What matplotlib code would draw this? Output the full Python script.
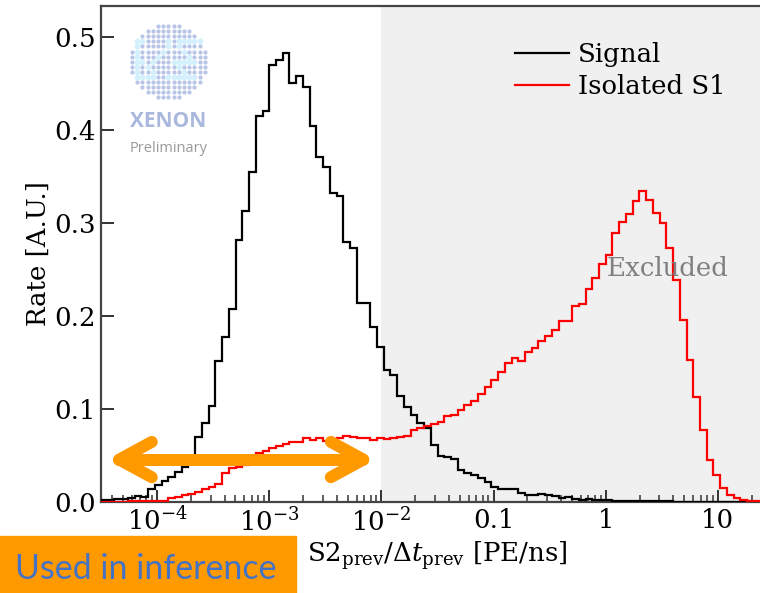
import numpy as np
import matplotlib.pyplot as plt
from matplotlib.patches import Rectangle

plt.rcParams.update({
    'font.family': 'DejaVu Serif',
    'mathtext.fontset': 'dejavuserif',
    'font.size': 18.7,
})

# log-spaced bins, 0.06 decades wide, from 10^-4.5 to 10^1.5
edges = np.logspace(-4.5, 1.5, 101)

# normalised rates, one value per bin
signal = [
    0.002, 0.002, 0.003, 0.003, 0.004, 0.006, 0.005, 0.014, 0.018, 0.023,
    0.027, 0.032, 0.038, 0.047, 0.070, 0.085, 0.103, 0.152, 0.177, 0.207,
    0.282, 0.313, 0.355, 0.415, 0.420, 0.470, 0.475, 0.483, 0.450, 0.458,
    0.446, 0.404, 0.371, 0.360, 0.332, 0.329, 0.279, 0.273, 0.214, 0.214,
    0.188, 0.167, 0.142, 0.137, 0.114, 0.102, 0.093, 0.085, 0.079, 0.061,
    0.049, 0.048, 0.046, 0.034, 0.031, 0.029, 0.026, 0.021, 0.016, 0.014,
    0.0135, 0.014, 0.010, 0.008, 0.008, 0.009, 0.007, 0.006, 0.004, 0.005,
    0.003, 0.002, 0.003, 0.002, 0.002, 0.002, 0.001, 0.001, 0.001, 0.001,
    0.001, 0.001, 0.0008, 0.0008, 0.0006, 0.0005, 0.0005, 0.0004, 0.0003, 0.0003,
    0.0002, 0.0002, 0.0002, 0.0001, 0.0001, 0.0001, 0.0001, 0.0, 0.0, 0.0,
]
isolated_s1 = [
    0.0003, 0.0003, 0.0005, 0.0005, 0.0007, 0.0008, 0.001, 0.0012, 0.0014, 0.0014,
    0.004, 0.005, 0.008, 0.009, 0.011, 0.014, 0.016, 0.019, 0.031, 0.036,
    0.038, 0.040, 0.046, 0.0525, 0.055, 0.0585, 0.0607, 0.062, 0.064, 0.065,
    0.0686, 0.0665, 0.0686, 0.066, 0.068, 0.069, 0.071, 0.070, 0.0686, 0.0686,
    0.067, 0.0686, 0.0675, 0.069, 0.070, 0.0705, 0.0775, 0.079, 0.082, 0.084,
    0.086, 0.092, 0.094, 0.099, 0.104, 0.109, 0.116, 0.124, 0.131, 0.140,
    0.149, 0.155, 0.152, 0.161, 0.165, 0.173, 0.178, 0.185, 0.195, 0.194,
    0.211, 0.213, 0.229, 0.241, 0.256, 0.265, 0.289, 0.301, 0.310, 0.323,
    0.334, 0.325, 0.311, 0.300, 0.273, 0.239, 0.196, 0.153, 0.1125, 0.077,
    0.045, 0.0285, 0.015, 0.008, 0.0043, 0.0025, 0.0015, 0.001, 0.0005, 0.0005,
]

xticks = [1e-4, 1e-3, 1e-2, 0.1, 1, 10]
xticklabels = [r'$10^{-4}$', r'$10^{-3}$', r'$10^{-2}$', '0.1', '1', '10']
yticks = [0.0, 0.1, 0.2, 0.3, 0.4, 0.5]
cut = 1e-2              # above this the region is excluded
inference_range = [4.6e-5, 6.9e-3]

W, H = 760, 593
fig = plt.figure(figsize=(W / 100, H / 100), dpi=100)
# axes runs past the right edge of the picture (the slide crops it)
ax = fig.add_axes([101 / W, 91 / H, 673 / W, 496 / H])

ax.axvspan(cut, edges[-1], color='#f0f0f0', lw=0, zorder=0)
ax.stairs(signal, edges, color='black', lw=1.6, label='Signal', zorder=3)
ax.stairs(isolated_s1, edges, color='red', lw=1.6, label='Isolated S1', zorder=3)

ax.set_xscale('log')
ax.set_xlim(edges[0], edges[-1])
ax.set_ylim(0, 0.533)
ax.set_xticks(xticks, xticklabels)
ax.xaxis.set_minor_formatter(plt.NullFormatter())
ax.set_yticks(yticks, [f'{v:.1f}' for v in yticks])
ax.tick_params(which='both', direction='in', top=False, right=False, width=1.4,
               color='#333333', pad=4)
ax.tick_params(which='major', length=9)
ax.tick_params(which='minor', length=5, width=1.1)
for s in ax.spines.values():
    s.set_color('#444444')
    s.set_linewidth(1.6)
ax.spines['right'].set_visible(False)

ax.set_xlabel(r'S2$_{\rm prev}$/$\Delta t_{\rm prev}$ [PE/ns]', labelpad=2)
ax.set_ylabel('Rate [A.U.]', labelpad=2)

ax.legend(loc='upper right', bbox_to_anchor=(0.944, 0.949), frameon=False,
          borderaxespad=0, handlelength=2.1, labelspacing=0.3, handletextpad=0.35)
ax.text(1.02, 0.251, 'Excluded', color='#808080', va='center', ha='left', zorder=4)

# orange double arrow marking the range used in the inference
ay = 0.0456
head = 10 ** 0.29
hdy = 0.019
akw = dict(color='#ff9900', lw=8.6, solid_capstyle='round',
           solid_joinstyle='round', zorder=6, clip_on=False)
x0, x1 = inference_range
ax.plot([x0, x1], [ay, ay], **akw)
ax.plot([x0 * head, x0, x0 * head], [ay + hdy, ay, ay - hdy], **akw)
ax.plot([x1 / head, x1, x1 / head], [ay + hdy, ay, ay - hdy], **akw)

# XENON logo: dot matrix disc
lax = fig.add_axes([126 / W, 1 - 104 / H, 86 / W, 84 / H])
lax.set_xlim(126, 212)
lax.set_ylim(104, 20)
lax.axis('off')
logo = [
    "     .....     ",
    "   .........   ",
    "  ...........  ",
    " oo....o.ooooo ",
    " o.....o.o.... ",
    ".o....o...o....",
    ".o...o.....o...",
    ".oo.o...ooooo..",
    ".o.o.....o.....",
    ".o..o.....o....",
    " oooo..oooooo. ",
    " .............",
    "  ...........  ",
    "   .........   ",
    "     .....     ",
]
for r, row in enumerate(logo):
    for c, ch in enumerate(row):
        px, py = 132 + c * 5.2, 26 + r * 5.1
        if ch == '.':
            lax.plot(px, py, 'o', ms=3.0, color='#b9c5e7', mec='none')
        elif ch == 'o':
            lax.plot(px, py, 'o', ms=4.2, color='#d3f0fc', mec='none')
fig.text(168.5 / W, 1 - 122 / H, 'XENON', ha='center', va='center',
         family='Open Sans', weight='bold', fontsize=15, color='#aab8de')
fig.text(168.5 / W, 1 - 149 / H, 'Preliminary', ha='center', va='center',
         family='Open Sans', fontsize=10.5, color='#9a9a9a')

# slide box
fig.patches.append(Rectangle((0, 0), 296 / W, 57 / H, transform=fig.transFigure,
                             color='#ff9900', zorder=10))
fig.text(15 / W, 1 - 569 / H, 'Used in inference', ha='left', va='center',
         family='Lato', fontsize=24.5, color='#4472c4', zorder=11)

fig.savefig('out.png', dpi=100)
